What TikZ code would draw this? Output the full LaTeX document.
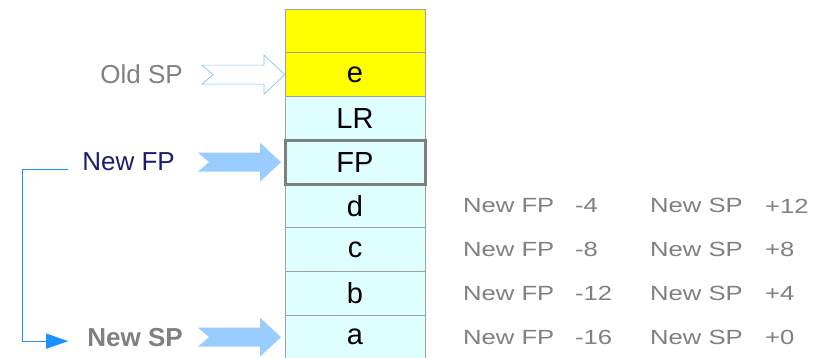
\documentclass[tikz,border=0pt]{standalone}
\usepackage{fontspec}
\setmainfont{Liberation Sans}
\newfontfamily\widefont[FakeStretch=1.25]{Liberation Sans}
\usetikzlibrary{arrows.meta, positioning}
\definecolor{stackyellow}{HTML}{FFFF00}
\definecolor{stackcyan}{HTML}{DFFFFF}
\definecolor{cellgray}{HTML}{A0A0A0}
\definecolor{framegray}{HTML}{7F7F7F}
\definecolor{arrowblue}{HTML}{99CCFF}
\definecolor{hollowblue}{HTML}{80C8F0}
\definecolor{textgray}{HTML}{808080}
\definecolor{fpnavy}{HTML}{1C1C6E}
\definecolor{linkblue}{HTML}{1E90FF}
\tikzstyle{cell} = [draw=cellgray, fill=stackcyan, rectangle, line width=0.8pt,
    minimum width=140pt, minimum height=43.75pt, inner sep=0pt, outer sep=0pt,
    font=\fontsize{29}{29}\selectfont]
\tikzstyle{sidetext} = [inner sep=0pt, font=\fontsize{26}{26}\selectfont]
\tikzstyle{tbltext} = [inner sep=0pt, anchor=west, text=textgray,
    font=\widefont\fontsize{20.5}{20.5}\selectfont]
\tikzstyle{fatarrow} = [fill=arrowblue]
\tikzstyle{hollowarrow} = [draw=hollowblue, fill=white, line width=0.7pt]
\tikzstyle{link} = [draw=linkblue, line width=0.9pt]
\tikzset{notched/.pic={
    \path[pic actions] (-83,-9.5) -- (-21,-9.5) -- (-21,-19.5) -- (0,0)
        -- (-21,19.5) -- (-21,9.5) -- (-83,9.5) -- (-72,0) -- cycle;
}}

\begin{document}
\begin{tikzpicture}[auto, node distance=0pt, >=Triangle, x=1pt, y=1pt]
    \useasboundingbox (0,0) rectangle (827,-358);
    \node [cell, fill=stackyellow] (top) at (355,-30.9) {};
    \node [cell, fill=stackyellow, below=of top] (e) {e};
    \node [cell, below=of e] (lr) {LR};
    \node [cell, below=of lr] (fp) {FP};
    \node [cell, below=of fp] (d) {d};
    \node [cell, below=of d] (c) {c};
    \node [cell, below=of c] (b) {b};
    \node [cell, below=of b] (a) {a};
    \draw [draw=framegray, line width=3pt] (fp.north west) rectangle (fp.south east);
    \pic [hollowarrow] at (e.west) {notched};
    \pic [fatarrow] at ([xshift=-4pt]fp.west) {notched};
    \pic [fatarrow] at ([xshift=-4pt]a.west) {notched};
    \node [sidetext, text=textgray, left=102pt of e] (oldsp) {Old SP};
    \node [sidetext, text=fpnavy, left=110pt of fp] (newfp) {New FP};
    \node [sidetext, text=textgray, font=\fontsize{26}{26}\selectfont\bfseries, left=102pt of a] (newsp) {New SP};
    \draw [link, -{Triangle[length=22pt, width=15pt]}] ([shift={(-14,-7)}]newfp.west) -- ++(-46,0) |- ([shift={(-19,-4)}]newsp.west);
    \foreach \cell/\fpoff/\spoff in {d/-4/+12, c/-8/+8, b/-12/+4, a/-16/+0} {
        \node [tbltext] (fpof\cell) at ([xshift=38pt]\cell.east) {New FP};
        \node [tbltext] (fpval\cell) at ([xshift=150pt]\cell.east) {\fpoff};
        \node [tbltext] (spof\cell) at ([xshift=225pt]\cell.east) {New SP};
        \node [tbltext] (spval\cell) at ([xshift=340pt]\cell.east) {\spoff};
    }
\end{tikzpicture}
\end{document}
